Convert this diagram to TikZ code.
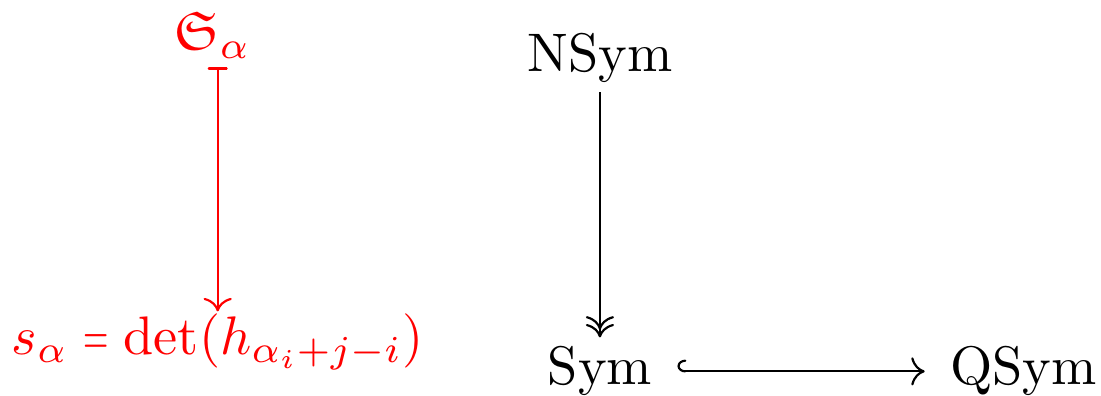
\documentclass[tikz,border=0pt]{standalone}
\usepackage{amssymb}
\usepackage{graphicx}
\usetikzlibrary{cd}
\newcommand{\narroweq}{\mathrel{\scalebox{0.6}[1]{$=$}}}
\begin{document}
\begin{tikzpicture}[x=1pt,y=1pt,
  obj/.style={anchor=base,inner xsep=4.5pt,inner ysep=1.5pt},
  redobj/.style={obj,text=red},
  cdarrow/.style={line width=0.4pt}]
\useasboundingbox (0,0) rectangle (202.8,72.9);
% left diagram
\node[redobj] (S) at (39.2,63.7) {$\mathfrak{S}_\alpha$};
\node[redobj,inner ysep=0.3pt] (s) at (40.1,7.55) {$s_\alpha \narroweq \det(h_{\alpha_i+j-i})$};
\draw[cdarrow,red,cm bar-cm to] (s.north |- S.south) -- (s.north);
% right diagram
\node[obj] (N) at (110.5,59.7) {NSym};
\node[obj] (Sy) at (110.5,2.0) {Sym};
\node[obj] (Q) at (188.5,2.0) {QSym};
\draw[cdarrow,-cm double to] (N) -- (Sy);
\draw[cdarrow,cm right hook-cm to] (Sy) -- (Q);
\end{tikzpicture}
\end{document}
